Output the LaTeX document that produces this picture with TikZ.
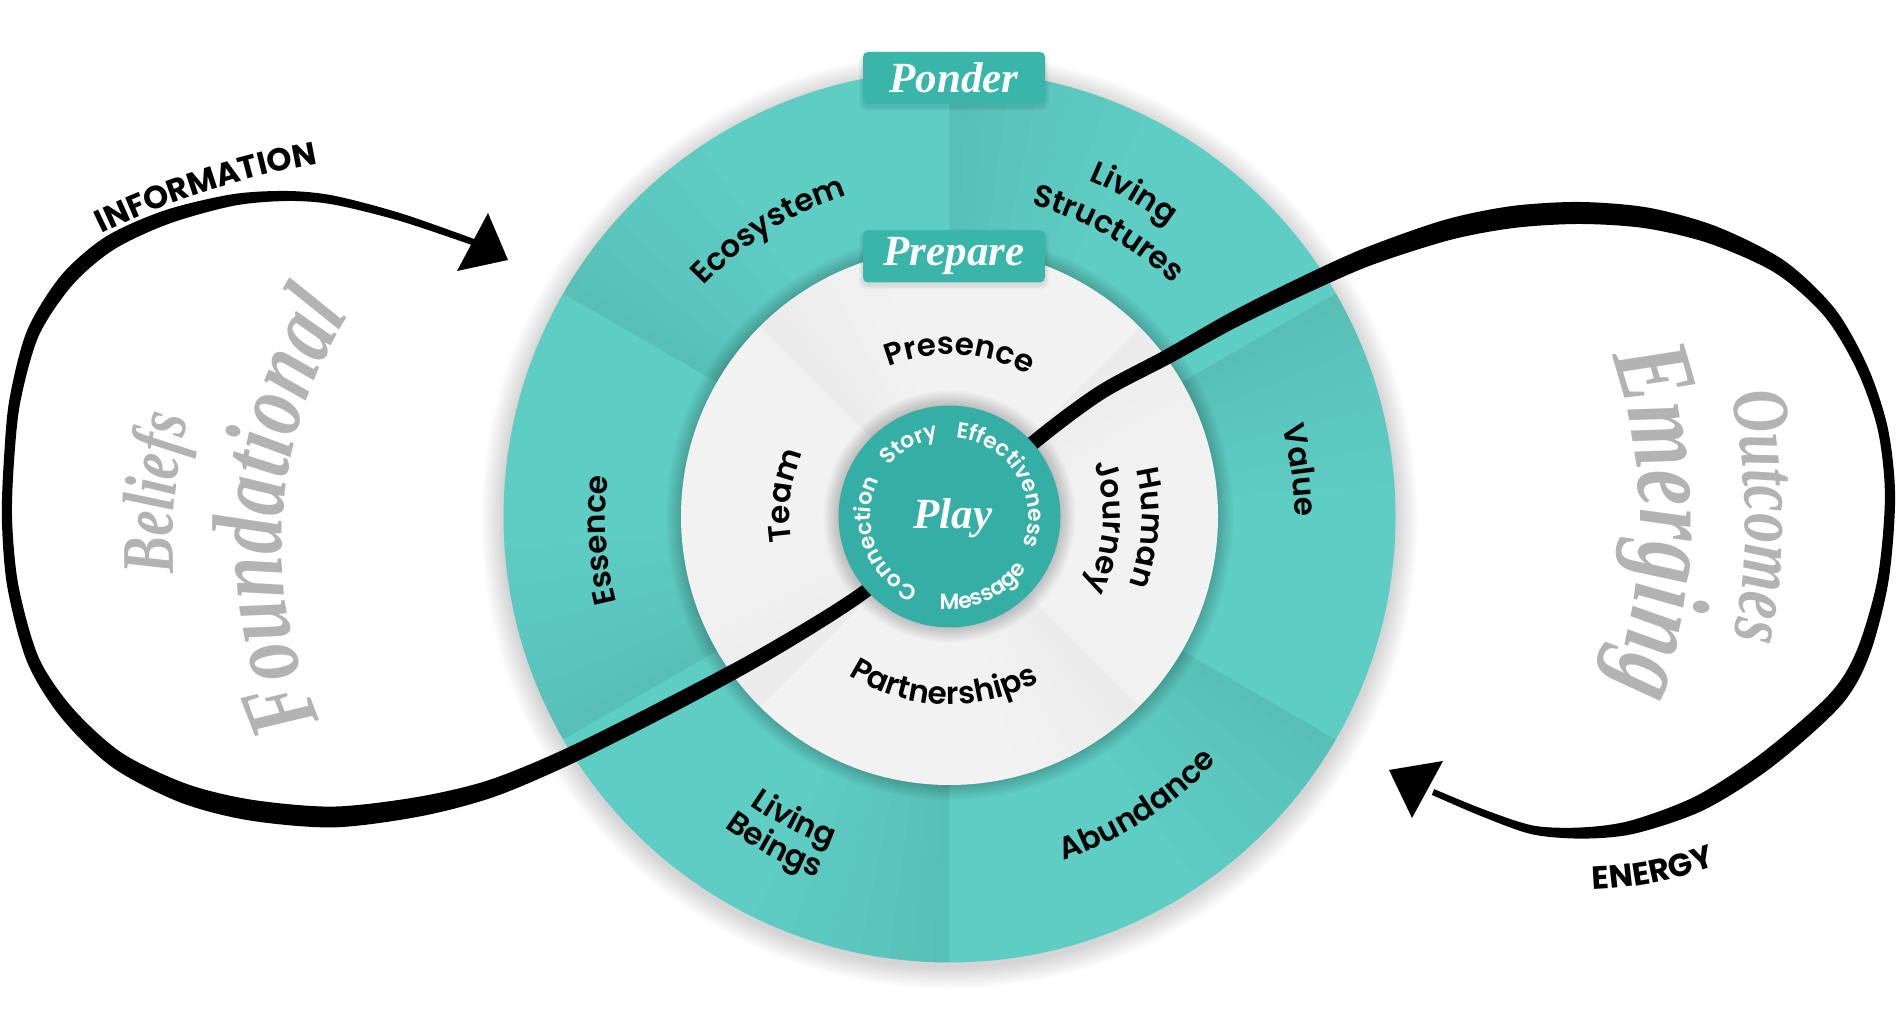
\documentclass[tikz,border=0pt]{standalone}
\usepackage{fontspec}
\usetikzlibrary{calc,decorations.text}
\newfontfamily\segfont{Poppins}[UprightFont={* SemiBold},BoldFont={* Bold}]
\newfontfamily\titlefont{Liberation Serif}
\newfontfamily\greyfont{Liberation Serif}[FakeStretch=0.75]
\definecolor{tealring}{HTML}{5ECDC4}
\definecolor{tealcore}{HTML}{35AFA5}
\definecolor{tealbox}{HTML}{3AB5AA}
\definecolor{ringwhite}{HTML}{F2F2F2}
\definecolor{greytext}{HTML}{B3B3B3}
\newcommand\seglab{\segfont\fontsize{31}{31}\selectfont}
\newcommand\corelab{\segfont\fontsize{22}{22}\selectfont\color{white}}
\newcommand\flowlab{\segfont\bfseries\fontsize{32}{32}\selectfont}
\newcommand\greyfnt[1]{\greyfont\bfseries\itshape\fontsize{#1}{#1}\selectfont\color{greytext}}
% #1 centre, #2 angle, #3 radius, #4 half span, #5 format, #6 text
\newcommand\cwtext[6]{\path[decorate,decoration={text along path,text align=center,text={|#5|#6}}] ($#1+({#2+#4}:#3)$) arc[start angle={#2+#4},end angle={#2-#4},radius=#3];}
\newcommand\ccwtext[6]{\path[decorate,decoration={text along path,text align=center,text={|#5|#6}}] ($#1+({#2-#4}:#3)$) arc[start angle={#2-#4},end angle={#2+#4},radius=#3];}
% #1 high edge angle, #2 inner r, #3 outer r, #4 width (deg), #5 opacity per layer
\newcommand\wedgeshade[5]{%
 \foreach \f in {1,0.8,0.6,0.45,0.3,0.18,0.08}{%
  \fill[black,opacity=#5] ($(C)+(#1:#3)$) arc[start angle=#1,end angle={#1-#4*\f},radius=#3] -- ($(C)+({#1-#4*\f}:#2)$) arc[start angle={#1-#4*\f},end angle=#1,radius=#2] -- cycle;}}
\tikzset{
  phasebox/.style={fill=tealbox,rounded corners=5pt,minimum width=182pt,minimum height=52pt,inner sep=0pt,text=white,font=\titlefont\bfseries\itshape\fontsize{43}{43}\selectfont},
  arrowtip/.style={fill=black}
}
\begin{document}
\begin{tikzpicture}[x=1pt,y=1pt]
\useasboundingbox[fill=white] (0,0) rectangle (1900,1035);
\coordinate (C) at (949.5,518.5);
% outer shadow
\foreach \k in {1,...,14} \fill[black,opacity=0.012] ($(C)+(0,-4)$) circle ({446+1.6*\k});
\fill[tealring] (C) circle (446);
\foreach \a in {30,90,150,210,270,330} {\wedgeshade{\a}{268.5}{446}{26}{0.006}}
\foreach \k in {1,...,10} \fill[black,opacity=0.018] (C) circle ({268.5+1.5*\k});
\fill[ringwhite] (C) circle (268.5);
\foreach \a in {45,135,225,315} {\wedgeshade{\a}{111}{268.5}{30}{0.004}}

% ---- infinity curve, left loop
\foreach \i/\x/\y in {0/1031/593,1/949/519,2/867/445,3/767/382,4/667/328,5/567/278,6/490/246,7/417/228,8/333/218,9/250/225,10/183/242,11/117/275,12/67/322,13/33/375,14/13/448,15/7/515,16/9/575,17/15/635,18/33/702,19/67/755,20/110/792,21/167/818,22/233/835,23/287/839,24/333/835,25/400/818,26/473/793,27/546/768}
  \coordinate (a\i) at (\x,\y);
\foreach \i/\h in {1/6.8,2/6.8,3/7.4,4/8,5/8.2,6/8.8,7/9.8,8/10.4,9/10.4,10/9.8,11/8.6,12/7.4,13/6.2,14/5.6,15/5.1,16/5.1,17/5.6,18/6.4,19/7.4,20/7.6,21/7,22/5.8,23/5,24/4.4,25/3.8,26/3.2}{
  \pgfmathtruncatemacro\iprev{\i-1}
  \pgfmathtruncatemacro\inext{\i+1}
  \coordinate (tmp) at ($(a\iprev)!\h pt!90:(a\inext)$);
  \coordinate (aL\i) at ($(a\i)+(tmp)-(a\iprev)$);
  \coordinate (aR\i) at ($(a\i)-(tmp)+(a\iprev)$);
}
\fill[black] plot[smooth,tension=0.5] coordinates {(aL1) (aL2) (aL3) (aL4) (aL5) (aL6) (aL7) (aL8) (aL9) (aL10) (aL11) (aL12) (aL13) (aL14) (aL15) (aL16) (aL17) (aL18) (aL19) (aL20) (aL21) (aL22) (aL23) (aL24) (aL25) (aL26)}
  -- plot[smooth,tension=0.5] coordinates {(aR26) (aR25) (aR24) (aR23) (aR22) (aR21) (aR20) (aR19) (aR18) (aR17) (aR16) (aR15) (aR14) (aR13) (aR12) (aR11) (aR10) (aR9) (aR8) (aR7) (aR6) (aR5) (aR4) (aR3) (aR2) (aR1)} -- cycle;
\coordinate (infotip) at (508,775);
\coordinate (infoc1) at (488,822);
\coordinate (infoc2) at (457,764);
\fill[arrowtip] (infotip) -- (infoc1) -- (infoc2) -- cycle;

% ---- right loop
\foreach \i/\x/\y in {0/865/446,1/949/519,2/1033/592,3/1100/642,4/1167/678,5/1233/715,6/1300/748,7/1367/778,8/1447/805,9/1513/818,10/1580/822,11/1647/817,12/1713/800,13/1780/768,14/1830/722,15/1863/665,16/1883/605,17/1890/538,18/1883/455,19/1863/382,20/1835/335,21/1767/275,22/1700/232,23/1633/208,24/1583/202,25/1533/205,26/1483/222,27/1433/243,28/1383/264}
  \coordinate (b\i) at (\x,\y);
\foreach \i/\h in {1/6.8,2/7.2,3/7.2,4/7.4,5/8,6/8.6,7/9.2,8/10.4,9/11,10/11,11/10.4,12/9.2,13/7.6,14/6.4,15/5.6,16/5.1,17/5.1,18/5.6,19/6.8,20/8,21/8.6,22/8,23/6.8,24/5.6,25/4.4,26/3.6,27/3.1}{
  \pgfmathtruncatemacro\iprev{\i-1}
  \pgfmathtruncatemacro\inext{\i+1}
  \coordinate (tmp) at ($(b\iprev)!\h pt!90:(b\inext)$);
  \coordinate (bL\i) at ($(b\i)+(tmp)-(b\iprev)$);
  \coordinate (bR\i) at ($(b\i)-(tmp)+(b\iprev)$);
}
\fill[black] plot[smooth,tension=0.5] coordinates {(bL1) (bL2) (bL3) (bL4) (bL5) (bL6) (bL7) (bL8) (bL9) (bL10) (bL11) (bL12) (bL13) (bL14) (bL15) (bL16) (bL17) (bL18) (bL19) (bL20) (bL21) (bL22) (bL23) (bL24) (bL25) (bL26) (bL27)}
  -- plot[smooth,tension=0.5] coordinates {(bR27) (bR26) (bR25) (bR24) (bR23) (bR22) (bR21) (bR20) (bR19) (bR18) (bR17) (bR16) (bR15) (bR14) (bR13) (bR12) (bR11) (bR10) (bR9) (bR8) (bR7) (bR6) (bR5) (bR4) (bR3) (bR2) (bR1)} -- cycle;
\coordinate (entip) at (1389,265);
\coordinate (enc1) at (1443,274);
\coordinate (enc2) at (1412,217);
\fill[arrowtip] (entip) -- (enc1) -- (enc2) -- cycle;

% ---- centre disc
\foreach \k in {1,...,10} \fill[black,opacity=0.02] (C) circle ({111+1.5*\k});
\fill[tealcore] (C) circle (111);
\node[text=white,font=\titlefont\bfseries\itshape\fontsize{43}{43}\selectfont] (play) at (953,517) {Play};

% ---- phase boxes
\foreach \k in {1,...,4} \fill[black,opacity=0.025,rounded corners=8pt] ({863-\k},{928-\k}) rectangle ({1045+\k},{980+\k});
\foreach \k in {1,...,4} \fill[black,opacity=0.025,rounded corners=8pt] ({863-\k},{749.5-\k}) rectangle ({1045+\k},{801.5+\k});
\node[phasebox] (ponder) at (954,957) {Ponder};
\node[phasebox] (prepare) at (954,778.5) {Prepare};

% ---- outer ring labels
\cwtext{(C)}{122.3}{337}{40}{\seglab}{Ecosystem}
\cwtext{(C)}{60.3}{364}{40}{\seglab}{Living}
\cwtext{(C)}{60.7}{322}{40}{\seglab}{Structures}
\cwtext{(C)}{7.5}{345}{40}{\seglab}{Value}
\cwtext{(C)}{183.9}{344}{40}{\seglab}{Essence}
\ccwtext{(C)}{-57}{362}{40}{\seglab}{Abundance}
\ccwtext{(C)}{-117.2}{351}{40}{\seglab}{Living}
\ccwtext{(C)}{-118}{384}{40}{\seglab}{Beings}
% ---- inner ring labels
\cwtext{(C)}{86.4}{162}{50}{\seglab}{Presence}
\cwtext{(C)}{-3.4}{192}{45}{\seglab}{Human}
\cwtext{(C)}{-3.9}{154}{50}{\seglab}{Journey}
\ccwtext{(C)}{-92}{188}{50}{\seglab}{Partnerships}
\cwtext{(C)}{172.9}{160}{45}{\seglab}{Team}
% ---- core labels
\cwtext{(C)}{119}{79}{60}{\corelab}{Story}
\cwtext{(C)}{32}{79}{70}{\corelab}{Effectiveness}
\cwtext{(C)}{199.5}{79}{65}{\corelab}{Connection}
\ccwtext{(C)}{-65}{93}{60}{\corelab}{Message}

% ---- flow labels
\coordinate (infoC) at (462,55);
\cwtext{(infoC)}{107.9}{829}{25}{\flowlab}{INFORMATION}
\coordinate (enC) at (1579,537);
\ccwtext{(enC)}{-78.8}{392}{25}{\flowlab}{ENERGY}

% ---- grey side words
\coordinate (leftC) at (708,491.5);
\cwtext{(leftC)}{175.9}{426}{50}{\greyfnt{100}}{Foundational}
\cwtext{(leftC)}{174.8}{535}{25}{\greyfnt{74}}{Beliefs}
\coordinate (rightC) at (1140,513);
\cwtext{(rightC)}{0}{500}{35}{\greyfnt{110}}{Emerging}
\cwtext{(rightC)}{0.5}{605}{25}{\greyfnt{80}}{Outcomes}
\end{tikzpicture}
\end{document}
